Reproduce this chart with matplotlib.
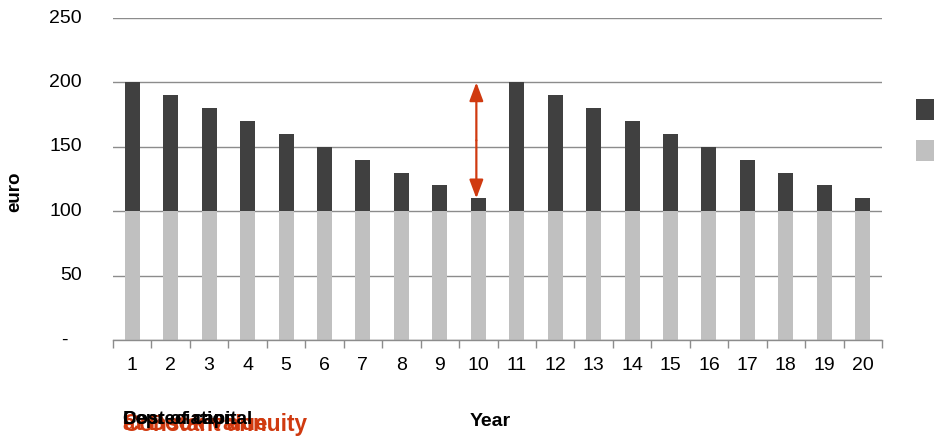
import matplotlib
matplotlib.use("Agg")
import matplotlib.pyplot as plt
import matplotlib.transforms as mtransforms
import numpy as np

plt.rcParams['font.family'] = ['Liberation Sans', 'DejaVu Sans']

years = list(range(1, 21))
year_labels = [str(y) for y in years]
depreciation = [100] * 20
cost_of_capital = [100, 90, 80, 70, 60, 50, 40, 30, 20, 10,
                   100, 90, 80, 70, 60, 50, 40, 30, 20, 10]
yticks = [0, 50, 100, 150, 200, 250]
ytick_labels = ['-', '50', '100', '150', '200', '250']
arrow_year = 10
arrow_from, arrow_to = 200, 110

RED = '#D03A10'
fig = plt.figure(figsize=(9.34, 4.37), dpi=100)
ax = fig.add_axes([113/934, 1-340/437, (882-113)/934, (340-18)/437])

x = np.array(years)
ax.bar(x, depreciation, width=0.39, color='#C0C0C0', zorder=2, label='Depreciation')
ax.bar(x, cost_of_capital, bottom=depreciation, width=0.39, color='#404040', zorder=2,
       label='Cost of capital')

ax.set_xlim(0.5, 20.5)
ax.set_ylim(0, 250)
ax.set_yticks(yticks)
ax.set_yticklabels([])
ax.yaxis.grid(True, color='#8C8C8C', linewidth=1.0, zorder=0)
ax.tick_params(axis='y', length=0)

# y tick labels (accounting style: zero shown as a dash, offset left)
ytr = mtransforms.blended_transform_factory(fig.transFigure, ax.transData)
for v, lab in zip(yticks, ytick_labels):
    xr = 82/934 if lab != '-' else 68/934
    ax.text(xr, v, lab, transform=ytr, ha='right', va='center', fontsize=14, color='black')

ax.set_xticks(x)
ax.set_xticklabels(year_labels, fontsize=14)
ax.set_xticks(np.arange(0.5, 21.5, 1), minor=True)
ax.tick_params(axis='x', which='major', length=0, pad=12)
ax.tick_params(axis='x', which='minor', length=6, color='#8C8C8C', width=1)

for s in ['top', 'right', 'left']:
    ax.spines[s].set_visible(False)
ax.spines['bottom'].set_color('#8C8C8C')
ax.spines['bottom'].set_linewidth(1)

mid = (arrow_from + arrow_to) / 2
for tip in (arrow_from, arrow_to):
    ax.annotate('', xy=(arrow_year - 0.05, tip), xytext=(arrow_year - 0.05, mid),
                arrowprops=dict(arrowstyle='-|>,head_length=0.8,head_width=0.3', color=RED,
                                lw=1.6, shrinkA=0, shrinkB=0, mutation_scale=14), zorder=5)

fig.text(15/934, 1-192/437, 'euro', rotation=90, fontsize=13.5, fontweight='bold',
         ha='center', va='center')
fig.text(490/934, 1-421/437, 'Year', fontsize=14, fontweight='bold', ha='center', va='center')

# overlapping legend-like texts at bottom left
fig.text(123/934, 1-424/437, 'at Book value', fontsize=16, fontweight='bold', color=RED,
         ha='left', va='center')
fig.text(123/934, 1-424/437, 'Constant annuity', fontsize=16.3, fontweight='bold', color=RED,
         ha='left', va='center')
fig.text(123/934, 1-420/437, 'Depreciation', fontsize=13.5, fontweight='bold', color='black',
         ha='left', va='center')
fig.text(123/934, 1-420/437, 'Cost of capital', fontsize=13.5, fontweight='bold', color='black',
         ha='left', va='center')

# legend squares at right edge (labels fall outside the image)
leg = fig.legend(handles=[ax.containers[1].patches[0], ax.containers[0].patches[0]],
                 labels=['Cost of capital', 'Depreciation'],
                 loc='upper left', bbox_to_anchor=(916/934, 1-99/437), frameon=False,
                 borderpad=0, borderaxespad=0, handletextpad=0.5,
                 handlelength=0.95, handleheight=1.3, labelspacing=1.0, fontsize=14)

fig.savefig('out.png', dpi=100)
